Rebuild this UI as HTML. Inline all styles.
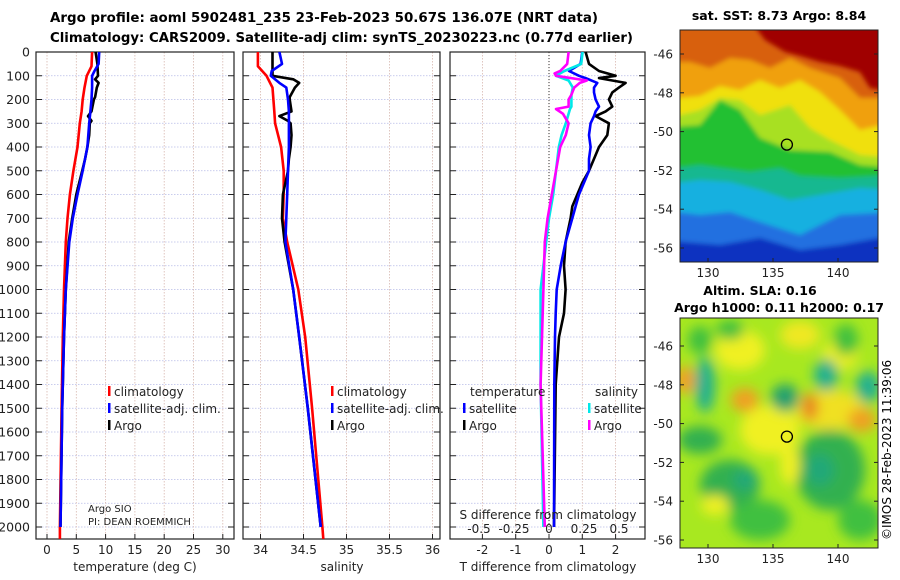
<!DOCTYPE html>
<html><head><meta charset="utf-8">
<style>
html,body{margin:0;padding:0;background:#fff;}
svg{display:block;font-family:"DejaVu Sans","Liberation Sans",sans-serif;}
</style></head>
<body>
<svg id="fig" width="900" height="580" viewBox="0 0 900 580" xmlns="http://www.w3.org/2000/svg">
<defs>
<filter id="blur3" x="-10%" y="-10%" width="120%" height="120%"><feGaussianBlur stdDeviation="2.5"/></filter>
<filter id="blur6" x="-20%" y="-20%" width="140%" height="140%"><feGaussianBlur stdDeviation="6"/></filter>
<clipPath id="clipTop"><rect x="680" y="30" width="198" height="232"/></clipPath>
<clipPath id="clipBot"><rect x="680" y="318" width="198" height="230"/></clipPath>
</defs>
<text x="50" y="22" font-size="13" font-weight="bold" textLength="548" lengthAdjust="spacingAndGlyphs">Argo profile: aoml 5902481_235 23-Feb-2023 50.67S 136.07E (NRT data)</text>
<text x="50" y="42" font-size="13" font-weight="bold" textLength="583" lengthAdjust="spacingAndGlyphs">Climatology: CARS2009. Satellite-adj clim: synTS_20230223.nc (0.77d earlier)</text>
<g id="panels"></g>

<!-- SST map -->
<g clip-path="url(#clipTop)">
<rect x="680" y="30" width="198" height="232" fill="#a00000"/>
<g filter="url(#blur3)">
<polygon fill="#d86010" points="660,20 750,20 765,40 785,52 800,56 820,62 840,66 860,72 870,88 895,92 895,280 660,280"/>
<polygon fill="#f0a008" points="660,62 690,62 710,68 730,58 750,60 770,68 790,58 810,68 840,78 860,98 895,98 895,280 660,280"/>
<polygon fill="#f0e010" points="660,100 700,96 720,86 740,90 760,80 780,88 800,80 820,92 840,110 860,130 895,122 895,280 660,280"/>
<polygon fill="#a8e020" points="660,120 700,110 720,98 740,100 760,115 790,105 810,128 830,140 860,155 895,158 895,280 660,280"/>
<polygon fill="#22c030" points="660,128 700,125 720,100 740,110 760,138 790,150 830,152 860,165 895,168 895,280 660,280"/>
<polygon fill="#14b890" points="660,170 700,165 720,168 750,172 780,168 800,176 840,178 895,175 895,280 660,280"/>
<polygon fill="#18b0e0" points="660,185 700,180 730,182 760,190 790,200 820,195 860,188 895,190 895,280 660,280"/>
<polygon fill="#2070e0" points="660,210 700,215 730,212 760,222 800,235 840,215 895,212 895,280 660,280"/>
<polygon fill="#0a30c0" points="660,240 720,245 760,238 800,250 840,245 895,235 895,280 660,280"/>
</g>
</g>
<rect x="680" y="30" width="198" height="232" fill="none" stroke="#222" stroke-width="1"/>
<!-- SLA map -->
<g clip-path="url(#clipBot)">
<rect x="680" y="318" width="198" height="230" fill="#a8e820"/>
<g filter="url(#blur6)">
<ellipse cx="740" cy="350" rx="25" ry="20" fill="#f0f020"/>
<ellipse cx="800" cy="335" rx="20" ry="14" fill="#f0e820"/>
<ellipse cx="840" cy="355" rx="18" ry="14" fill="#f0f020"/>
<ellipse cx="770" cy="430" rx="30" ry="25" fill="#f0f020"/>
<ellipse cx="830" cy="410" rx="35" ry="20" fill="#f0e020"/>
<ellipse cx="700" cy="340" rx="12" ry="14" fill="#40c040"/>
<ellipse cx="730" cy="330" rx="14" ry="10" fill="#40c040"/>
<ellipse cx="846" cy="340" rx="12" ry="16" fill="#40c040"/>
<ellipse cx="685" cy="380" rx="10" ry="14" fill="#f0a020"/>
<ellipse cx="745" cy="400" rx="14" ry="12" fill="#f0a020"/>
<ellipse cx="810" cy="407" rx="8" ry="14" fill="#e88020"/>
<ellipse cx="862" cy="420" rx="14" ry="12" fill="#f0a020"/>
<ellipse cx="705" cy="385" rx="10" ry="28" fill="#20b090"/>
<ellipse cx="785" cy="398" rx="14" ry="14" fill="#20a070"/>
<ellipse cx="826" cy="375" rx="12" ry="16" fill="#20b090"/>
<ellipse cx="868" cy="387" rx="12" ry="16" fill="#20b090"/>
<ellipse cx="700" cy="440" rx="22" ry="14" fill="#30b050"/>
<ellipse cx="830" cy="470" rx="35" ry="40" fill="#30b050"/>
<ellipse cx="730" cy="485" rx="30" ry="25" fill="#30b050"/>
<ellipse cx="820" cy="470" rx="14" ry="16" fill="#20a878"/>
<ellipse cx="745" cy="480" rx="12" ry="10" fill="#20a878"/>
<ellipse cx="715" cy="505" rx="14" ry="10" fill="#f0f020"/>
<ellipse cx="790" cy="465" rx="10" ry="20" fill="#f0f020"/>
<ellipse cx="760" cy="520" rx="30" ry="20" fill="#40c040"/>
<ellipse cx="860" cy="520" rx="22" ry="20" fill="#40c040"/>
</g>
</g>
<rect x="680" y="318" width="198" height="230" fill="none" stroke="#222" stroke-width="1"/>
<g id="maps"></g>
<text x="779" y="20" font-size="12.5" font-weight="bold" text-anchor="middle">sat. SST: 8.73 Argo: 8.84</text>
<text x="760" y="295" font-size="12.5" font-weight="bold" text-anchor="middle">Altim. SLA: 0.16</text>
<text x="779" y="312" font-size="12.5" font-weight="bold" text-anchor="middle">Argo h1000: 0.11 h2000: 0.17</text>
<text transform="translate(891,540) rotate(-90)" font-size="12">©IMOS 28-Feb-2023 11:39:06</text>
</svg>
<script>
// ---- data ----
var depthTicks = [0,100,200,300,400,500,600,700,800,900,1000,1100,1200,1300,1400,1500,1600,1700,1800,1900,2000];
var tempTicks = [0,5,10,15,20,25,30];
var salTicks = [34,34.5,35,35.5,36];
var tdiffTicks = [-2,-1,0,1,2];
var sdiffTicks = [-0.5,-0.25,0,0.25,0.5];
var sdiffTickLabels = ["-0.5","-0.25","0","0.25","0.5"];
var latTicks = [-46,-48,-50,-52,-54,-56];
var lonTicks = [130,135,140];

var climDepth = [0,60,100,150,200,250,300,400,500,600,700,800,1000,1200,1500,2000,2050];
var climTemp  = [7.7,7.6,6.8,6.4,6.1,5.9,5.6,5.2,4.5,3.9,3.5,3.2,2.9,2.7,2.5,2.2,2.2];
var climSal   = [33.97,33.97,34.07,34.14,34.15,34.16,34.17,34.24,34.27,34.27,34.26,34.31,34.44,34.52,34.60,34.72,34.73];

var satDepth = [0,50,80,100,130,150,200,250,300,400,500,600,700,800,1000,1200,1500,2000];
var satTemp  = [8.9,8.8,8.1,7.7,7.7,7.7,7.6,7.4,7.2,6.9,6.1,5.2,4.4,3.8,3.2,2.9,2.6,2.3];
var satSal   = [34.22,34.25,34.13,34.12,34.22,34.30,34.32,34.33,34.33,34.33,34.32,34.31,34.30,34.29,34.38,34.45,34.55,34.70];

var argoDepth = [0,50,100,115,130,150,190,200,250,270,290,300,350,400,450,500,600,700,800,1000,1200,1500,2000];
var argoTemp  = [8.3,8.6,8.7,8.2,8.8,8.5,8.2,8.0,7.6,7.0,7.6,7.3,7.2,6.9,6.5,6.0,5.0,4.3,3.7,3.2,2.9,2.6,2.3];
var argoSal   = [34.14,34.14,34.14,34.38,34.45,34.40,34.34,34.34,34.36,34.22,34.32,34.35,34.36,34.35,34.33,34.32,34.26,34.25,34.28,34.38,34.45,34.55,34.70];

var tdDepth  = [0,50,80,100,110,130,150,170,200,230,250,270,300,350,400,450,500,550,600,650,700,800,900,1000,1100,1200,1400,2000];
var tdArgo   = [1.1,1.2,1.5,2.0,1.5,2.3,2.1,1.9,1.8,1.9,1.7,1.4,1.8,1.75,1.5,1.35,1.2,1.0,0.85,0.7,0.65,0.5,0.45,0.5,0.45,0.3,0.2,0.15];
var tdSat    = [1.0,0.95,0.6,0.9,1.1,1.45,1.35,1.35,1.4,1.5,1.4,1.35,1.25,1.2,1.25,1.2,1.2,1.05,0.9,0.8,0.7,0.5,0.35,0.23,0.2,0.18,0.16,0.15];
var sdDepth  = [0,50,80,90,100,120,130,150,180,200,230,240,260,300,350,400,500,600,700,800,1000,1400,2000];
var sdSat    = [0.24,0.23,0.11,0.08,0.05,0.14,0.15,0.17,0.16,0.16,0.16,0.15,0.14,0.12,0.09,0.07,0.05,0.03,0.0,-0.02,-0.06,-0.06,-0.04];
var sdArgo   = [0.14,0.13,0.08,0.04,0.05,0.27,0.22,0.18,0.16,0.14,0.14,0.05,0.10,0.14,0.12,0.08,0.05,0.02,-0.01,-0.03,-0.04,-0.06,-0.03];

var floatLon = 136.07, floatLat = -50.67;

// ---- layout ----
var NS = "http://www.w3.org/2000/svg";
var svg = document.getElementById('fig');
var panelsG = document.getElementById('panels');
var Y0 = 52, PXM = 0.2375, BOT = 539;
function yD(d){ return Y0 + d*PXM; }
function mk(tag, attrs, parent){
  var e = document.createElementNS(NS, tag);
  for (var k in attrs) e.setAttribute(k, attrs[k]);
  (parent||panelsG).appendChild(e); return e;
}
function txt(s, x, y, size, anchor, parent){
  var t = mk('text', {x:x, y:y, 'font-size':size, 'text-anchor':anchor||'start', fill:'#222'}, parent);
  t.textContent = s; return t;
}
function xT(v){ return 47 + v*5.86; }
function xS(v){ return 260.5 + (v-34)*86; }
function xTD(v){ return 549 + v*33.3; }
function xSD(v){ return 549 + v*140; }

function frame(x0, x1, name, xticks, xf){
  var g = mk('g', {});
  
  
  depthTicks.forEach(function(d){
    mk('line', {x1:x0, x2:x1, y1:yD(d), y2:yD(d), stroke:'#b8bce8', 'stroke-width':0.8, 'stroke-dasharray':'1.5,1.5'}, g);
  });
  xticks.forEach(function(v){
    mk('line', {x1:xf(v), x2:xf(v), y1:Y0, y2:BOT, stroke:'#d8b8b0', 'stroke-width':0.8, 'stroke-dasharray':'1.5,1.5'}, g);
  });
  depthTicks.forEach(function(d){
    mk('line', {x1:x0, x2:x0+6, y1:yD(d), y2:yD(d), stroke:'#222', 'stroke-width':1}, g);
    mk('line', {x1:x1-6, x2:x1, y1:yD(d), y2:yD(d), stroke:'#222', 'stroke-width':1}, g);
  });
  xticks.forEach(function(v){
    mk('line', {x1:xf(v), x2:xf(v), y1:BOT-5, y2:BOT, stroke:'#222', 'stroke-width':1}, g);
  });
  mk('rect', {x:x0, y:Y0, width:x1-x0, height:BOT-Y0, fill:'none', stroke:'#222', 'stroke-width':1.2}, g);
  return g;
}
function line(depths, vals, xf, color, name, w){
  var p = depths.map(function(d,i){ return xf(vals[i]).toFixed(1)+','+yD(d).toFixed(1); }).join(' ');
  var e = mk('polyline', {points:p, fill:'none', stroke:color, 'stroke-width':w||2.6, 'stroke-linejoin':'round'});
  
  
  return e;
}
function legendEntry(x, y, color, label, name){
  var g = mk('g', {});
  
  
  mk('rect', {x:x, y:y-10, width:2.5, height:10, fill:color}, g);
  txt(label, x+6, y, 12, 'start', g);
}

// depth labels
depthTicks.forEach(function(d){
  var t = txt(String(d), 30, yD(d)+4.5, 12.5, 'end');
  
  
});

// Panel 1 temperature
frame(36, 234, 'temperature-panel', tempTicks, xT);
tempTicks.forEach(function(v){ var t=txt(String(v), xT(v), 554, 12, 'middle');   });
var t1 = txt('temperature (deg C)', 135, 571, 12, 'middle');
 
line(climDepth, climTemp, xT, '#ff0000', 'temp-climatology-line');
line(argoDepth, argoTemp, xT, '#000000', 'temp-argo-line');
line(satDepth, satTemp, xT, '#0000ff', 'temp-satellite-line');
legendEntry(108, 396, '#ff0000', 'climatology', 'legend-climatology');
legendEntry(108, 413, '#0000ff', 'satellite-adj. clim.', 'legend-satellite');
legendEntry(108, 430, '#000000', 'Argo', 'legend-argo');
var a1=txt('Argo SIO', 88, 512, 10);  
var a2=txt('PI: DEAN ROEMMICH', 88, 525, 10);  

// Panel 2 salinity
frame(243, 440, 'salinity-panel', salTicks, xS);
salTicks.forEach(function(v){ var t=txt(String(v), xS(v), 554, 12, 'middle');   });
var t2 = txt('salinity', 342, 571, 12, 'middle');
 
line(climDepth, climSal, xS, '#ff0000', 'sal-climatology-line');
line(argoDepth, argoSal, xS, '#000000', 'sal-argo-line');
line(satDepth, satSal, xS, '#0000ff', 'sal-satellite-line');
legendEntry(331, 396, '#ff0000', 'climatology', 'legend-climatology-2');
legendEntry(331, 413, '#0000ff', 'satellite-adj. clim.', 'legend-satellite-2');
legendEntry(331, 430, '#000000', 'Argo', 'legend-argo-2');

// Panel 3 differences
frame(450, 645, 'difference-panel', tdiffTicks, xTD);
var zl = mk('line', {x1:549, x2:549, y1:Y0, y2:BOT, stroke:'#333', 'stroke-width':1, 'stroke-dasharray':'1,2'});
 
tdiffTicks.forEach(function(v){ var t=txt(String(v), xTD(v), 554, 12, 'middle');   });
var t3 = txt('T difference from climatology', 548, 571, 12, 'middle');
 
line(tdDepth, tdArgo, xTD, '#000000', 'tdiff-argo-line');
line(tdDepth, tdSat, xTD, '#0000ff', 'tdiff-satellite-line');
line(sdDepth, sdSat, xSD, '#00e8e8', 'sdiff-satellite-line');
line(sdDepth, sdArgo, xSD, '#ff00ff', 'sdiff-argo-line');
var lt=txt('temperature', 470, 396, 12);  
legendEntry(463, 413, '#0000ff', 'satellite', 'legend-t-satellite');
legendEntry(463, 430, '#000000', 'Argo', 'legend-t-argo');
var ls=txt('salinity', 595, 396, 12);  
legendEntry(588, 413, '#00e8e8', 'satellite', 'legend-s-satellite');
legendEntry(588, 430, '#ff00ff', 'Argo', 'legend-s-argo');
var st = txt('S difference from climatology', 548, 519, 12, 'middle');
 
sdiffTicks.forEach(function(v,i){ var t=txt(sdiffTickLabels[i], xSD(v), 533, 12, 'middle');   });

// Maps axes
var mapsG = document.getElementById('maps');
function lonX(l){ return 708 + (l-130)*13; }
function latYTop(l){ return 54 + (-46-l)*19.4; }
function latYBot(l){ return 346 + (-46-l)*19.4; }
[[latYTop, 262],[latYBot, 548]].forEach(function(m){
  var fy = m[0], bottom = m[1];
  latTicks.forEach(function(l){
    var y = fy(l);
    mk('line', {x1:680, x2:684, y1:y, y2:y, stroke:'#222'}, mapsG);
    mk('line', {x1:874, x2:878, y1:y, y2:y, stroke:'#222'}, mapsG);
    var t = txt(String(l), 673, y+4.5, 12, 'end', mapsG);
     
  });
  lonTicks.forEach(function(l){
    var x = lonX(l);
    mk('line', {x1:x, x2:x, y1:bottom-4, y2:bottom, stroke:'#222'}, mapsG);
    var t = txt(String(l), x, bottom+15, 12, 'middle', mapsG);
     
  });
  var c = mk('circle', {cx:lonX(floatLon), cy:fy(floatLat), r:5.5, fill:'none', stroke:'#000', 'stroke-width':1.3}, mapsG);
   
});
</script>
</body></html>
